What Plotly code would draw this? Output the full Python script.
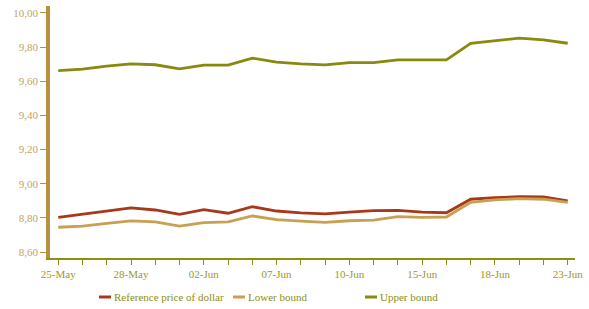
import plotly.graph_objects as go

dates = ["25-May", "26-May", "27-May", "28-May", "31-May", "01-Jun", "02-Jun", "03-Jun",
         "04-Jun", "07-Jun", "08-Jun", "09-Jun", "10-Jun", "11-Jun", "14-Jun", "15-Jun",
         "16-Jun", "17-Jun", "18-Jun", "21-Jun", "22-Jun", "23-Jun"]

reference_price = [8.803, 8.821, 8.842, 8.858, 8.846, 8.821, 8.848, 8.827, 8.865, 8.840, 8.829,
                   8.823, 8.833, 8.842, 8.844, 8.833, 8.830, 8.909, 8.918, 8.924, 8.922, 8.899]
lower_bound = [8.745, 8.752, 8.768, 8.782, 8.776, 8.752, 8.772, 8.776, 8.811, 8.789, 8.781,
               8.773, 8.783, 8.787, 8.807, 8.803, 8.805, 8.891, 8.905, 8.912, 8.909, 8.891]
upper_bound = [9.662, 9.670, 9.688, 9.701, 9.696, 9.672, 9.694, 9.694, 9.735, 9.711, 9.701,
               9.695, 9.709, 9.709, 9.725, 9.723, 9.725, 9.822, 9.838, 9.852, 9.842, 9.822]

x_tick_labels = ["25-May", "28-May", "02-Jun", "07-Jun", "10-Jun", "15-Jun", "18-Jun", "23-Jun"]
y_tick_values = [8.6, 8.8, 9.0, 9.2, 9.4, 9.6, 9.8, 10.0]

series_names = ["Reference price of dollar", "Lower bound", "Upper bound"]
series_values = [reference_price, lower_bound, upper_bound]
series_colors = ["#A8381A", "#C9A052", "#878A0C"]

# figure geometry (pixels)
W, H = 589, 309
ML, MR, MT, MB = 50, 14, 6, 51
PW, PH = W - ML - MR, H - MT - MB

def px_to_paper(px, py):
    return (px - ML) / PW, (H - MB - py) / PH

font_family = "Liberation Serif"
legend_color = "#8E8E14"

fig = go.Figure()
for name, vals, color in zip(series_names, series_values, series_colors):
    fig.add_trace(go.Scatter(x=dates, y=vals, mode="lines", name=name,
                             line=dict(color=color, width=2.8)))

# custom legend (short swatches like the original)
legend_starts = [99, 233, 365]
legend_y = 297
shapes, annotations = [], []
for name, color, sx in zip(series_names, series_colors, legend_starts):
    x0, y0 = px_to_paper(sx, legend_y)
    x1, _ = px_to_paper(sx + 12, legend_y)
    shapes.append(dict(type="line", xref="paper", yref="paper", x0=x0, x1=x1, y0=y0, y1=y0,
                       line=dict(color=color, width=3)))
    tx, _ = px_to_paper(sx + 13, legend_y)
    annotations.append(dict(text=name, xref="paper", yref="paper", x=tx, y=y0,
                            xanchor="left", yanchor="middle", showarrow=False,
                            font=dict(family=font_family, size=11, color=legend_color)))

ticktext = [d if d in x_tick_labels else "" for d in dates]

fig.update_layout(
    width=W, height=H,
    margin=dict(l=ML, r=MR, t=MT, b=MB, autoexpand=False),
    paper_bgcolor="white", plot_bgcolor="white",
    separators=", ",
    font=dict(family=font_family, size=11),
    showlegend=False,
    shapes=shapes, annotations=annotations,
    xaxis=dict(type="category", range=[-0.34, 21.3], tickmode="array",
               tickvals=dates, ticktext=ticktext, showgrid=False, zeroline=False,
               showline=True, linecolor="#8E8E16", linewidth=2, automargin=False,
               ticks="outside", ticklen=5, tickcolor="#8E8E16", tickwidth=1,
               tickfont=dict(family=font_family, size=11, color="#9A9A24")),
    yaxis=dict(range=[8.565, 10.04], tickmode="array", tickvals=y_tick_values,
               tickformat=".2f", showgrid=False, zeroline=False, automargin=False,
               showline=True, linecolor="#B8913F", linewidth=3.5,
               ticks="outside", ticklen=6, tickcolor="#B8913F", tickwidth=1,
               tickfont=dict(family=font_family, size=11, color="#C2A463")),
)

fig.write_html("out.html", config={"displayModeBar": False},
               post_script="document.body.style.margin='0';")
